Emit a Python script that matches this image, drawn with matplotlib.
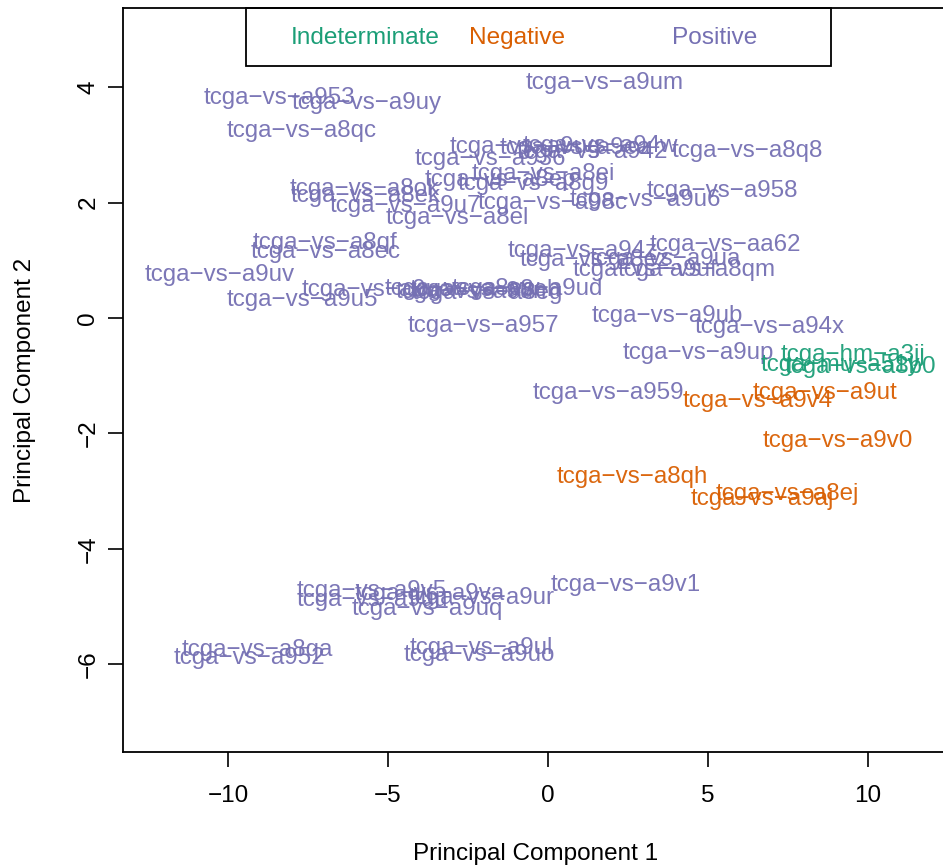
import matplotlib
matplotlib.use("Agg")
from matplotlib import pyplot as plt
from matplotlib.patches import Rectangle

# sample names, PCA scores and status
names = [
    "tcga-vs-a953", "tcga-vs-a9uy", "tcga-vs-a8qc", "tcga-vs-a9um", "tcga-vs-a8q8",
    "tcga-vs-a9ug", "tcga-vs-a94w", "tcga-vs-a942", "tcga-vs-a9ea", "tcga-vs-a936",
    "tcga-vs-a8ei", "tcga-vs-a8g9", "tcga-vs-a8ep", "tcga-vs-a8ok", "tcga-vs-a8ek",
    "tcga-vs-a9u7", "tcga-vs-a8el", "tcga-vs-a98c", "tcga-vs-a9u6", "tcga-vs-a958",
    "tcga-vs-a8qf", "tcga-vs-a8ec", "tcga-vs-a9uv", "tcga-vs-a9u5", "tcga-vs-a9uc",
    "tcga-vs-a8ew", "tcga-vs-a9un", "tcga-vs-a8eh", "tcga-vs-a8eg", "tcga-vs-a9ud",
    "tcga-vs-a957", "tcga-vs-a94z", "tcga-vs-aa62", "tcga-vs-a9ua", "tcga-vs-a8ez",
    "tcga-vs-a9uf", "tcga-vs-a8qm", "tcga-vs-a9ub", "tcga-vs-a94x", "tcga-vs-a9up",
    "tcga-vs-a959", "tcga-vs-a9v5", "tcga-vs-a9uu", "tcga-vs-a9va", "tcga-vs-a9ur",
    "tcga-vs-a9uq", "tcga-vs-a9v1", "tcga-vs-a8qa", "tcga-vs-a952", "tcga-vs-a9ul",
    "tcga-vs-a9uo",
    "tcga-vs-a9ut", "tcga-vs-a9v4", "tcga-vs-a9v0", "tcga-vs-a8qh", "tcga-vs-a8ej",
    "tcga-vs-a9aj",
    "tcga-hm-a3jj", "tcga-mu-a51y", "tcga-vs-a8b0",
]
pc1 = [
    -8.38, -5.66, -7.69, 1.78, 6.22,
    -0.72, 1.63, 1.38, 0.84, -1.81,
    -0.16, -0.47, -1.50, -5.72, -5.69,
    -4.47, -2.84, 0.16, 3.03, 5.44,
    -6.97, -6.94, -10.25, -7.66, -5.34,
    -2.69, -2.38, -1.97, -1.91, -0.66,
    -2.03, 1.09, 5.53, 3.66, 1.47,
    3.03, 4.66, 3.72, 6.94, 4.69,
    1.88, -5.50, -5.50, -3.69, -2.06,
    -3.78, 2.44, -9.09, -9.34, -2.09,
    -2.16,
    8.66, 6.56, 9.06, 2.63, 7.47,
    6.69,
    9.53, 9.13, 9.75,
]
pc2 = [
    3.86, 3.76, 3.29, 4.12, 2.93,
    3.00, 3.03, 2.91, 2.98, 2.79,
    2.53, 2.37, 2.44, 2.27, 2.16,
    1.99, 1.77, 2.03, 2.08, 2.25,
    1.35, 1.18, 0.78, 0.35, 0.52,
    0.55, 0.50, 0.52, 0.48, 0.55,
    -0.09, 1.21, 1.30, 1.06, 1.04,
    0.88, 0.87, 0.07, -0.12, -0.57,
    -1.25, -4.69, -4.85, -4.74, -4.80,
    -5.00, -4.59, -5.71, -5.85, -5.68,
    -5.80,
    -1.25, -1.39, -2.08, -2.72, -3.01,
    -3.10,
    -0.59, -0.78, -0.81,
]
status = ["Positive"] * 51 + ["Negative"] * 6 + ["Indeterminate"] * 3

groups = ["Indeterminate", "Negative", "Positive"]
colors = {"Indeterminate": "#1B9E77", "Negative": "#D95F02", "Positive": "#7570B3"}

plt.rcParams['font.family'] = ['Liberation Sans', 'DejaVu Sans']

fig = plt.figure(figsize=(9.43, 8.68), dpi=100)
ax = fig.add_axes([0.1304, 0.1336, 0.8749, 0.8572])
ax.set_xlim(-13.28, 12.5)
ax.set_ylim(-7.52, 5.37)

for n, x, y, s in zip(names, pc1, pc2, status):
    ax.text(x, y, n.replace("-", "\u2212"), color=colors[s], fontsize=17.4,
            ha='center', va='center_baseline', alpha=0.95)

# legend box along the top edge, horizontal
ax.add_patch(Rectangle((0.149, 0.922), 0.709, 0.078, transform=ax.transAxes,
                       fill=False, edgecolor='black', linewidth=1.3, clip_on=False))
for g, lx in zip(groups, [0.2036, 0.4194, 0.6655]):
    ax.text(lx, 0.9597, g, color=colors[g], fontsize=17.6, ha='left', va='center',
            transform=ax.transAxes)

ax.set_xticks([-10, -5, 0, 5, 10])
ax.set_xticklabels(["\u221210", "\u22125", "0", "5", "10"])
ax.set_yticks([-6, -4, -2, 0, 2, 4])
ax.set_yticklabels(["\u22126", "\u22124", "\u22122", "0", "2", "4"], rotation=90, va='center')
ax.tick_params(axis='both', length=11, width=1.2, labelsize=17.5)
ax.tick_params(axis='x', pad=13)
ax.tick_params(axis='y', pad=6)
for sp in ax.spines.values():
    sp.set_linewidth(1.3)

ax.set_xlabel("Principal Component 1", fontsize=17.5, labelpad=26)
ax.set_ylabel("Principal Component 2", fontsize=17.5, labelpad=30)

fig.savefig("out.png", dpi=100)
